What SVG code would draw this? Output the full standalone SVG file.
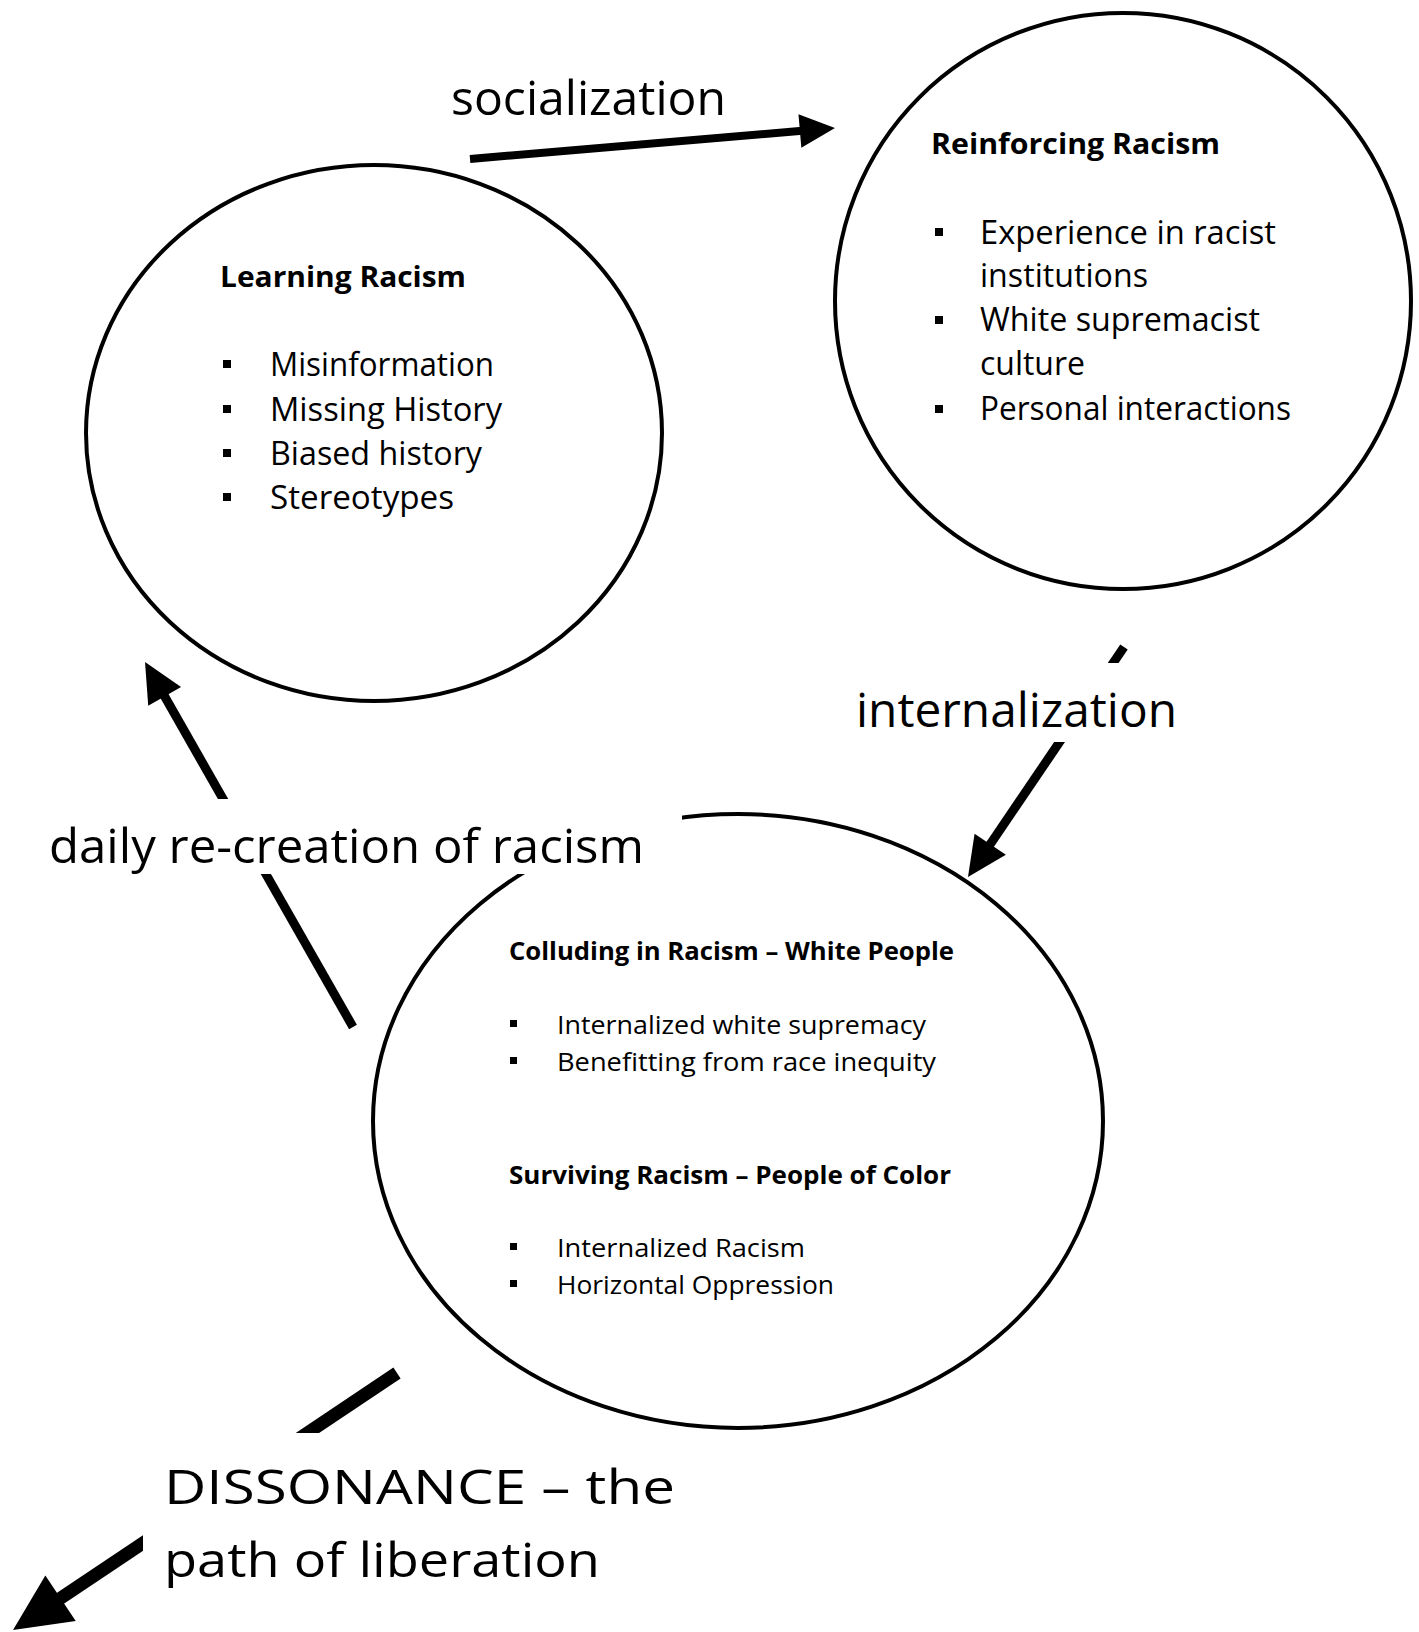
<svg xmlns="http://www.w3.org/2000/svg" width="1419" height="1632" viewBox="0 0 1419 1632">
<style>
  .node { fill: none; stroke: #000; stroke-width: 4; }
  .conn { stroke: #000; fill: none; stroke-linecap: butt; }
  .h { font-family: "Open Sans", "Liberation Sans", sans-serif; font-weight: bold; fill: #000; }
  .b { font-family: "Open Sans", "Liberation Sans", sans-serif; fill: #000; }
  .lbl { font-family: "Open Sans", "Liberation Sans", sans-serif; fill: #000; font-size: 48px; }
  .mask { fill: #fff; stroke: none; }
  .bul { fill: #000; }
</style>
<defs>
  <marker id="ah" markerUnits="strokeWidth" markerWidth="4.4" markerHeight="4.2" refX="0.3" refY="2.1" orient="auto" overflow="visible">
    <path d="M0,0 L4.4,2.1 L0,4.2 z" fill="#000"/>
  </marker>
</defs>
<rect x="0" y="0" width="1419" height="1632" fill="#fff"/>

<g id="connectors">
  <line class="conn" x1="470" y1="159" x2="802.3" y2="130.8" stroke-width="8" marker-end="url(#ah)"/>
  <line class="conn" x1="1124" y1="647" x2="988.7" y2="846.5" stroke-width="9" marker-end="url(#ah)"/>
  <line class="conn" x1="353" y1="1027" x2="163.3" y2="694.1" stroke-width="9" marker-end="url(#ah)"/>
  <line class="conn" x1="397" y1="1373" x2="57.3" y2="1600.4" stroke-width="13" marker-end="url(#ah)"/>
</g>

<g id="learning-racism">
  <ellipse class="node" cx="374" cy="433" rx="288" ry="268"/>
  <text class="h" x="220" y="287" font-size="29" textLength="246" lengthAdjust="spacingAndGlyphs">Learning Racism</text>
  <rect class="bul" x="223" y="360" width="8" height="8"/>
  <rect class="bul" x="223" y="405" width="8" height="8"/>
  <rect class="bul" x="223" y="449" width="8" height="8"/>
  <rect class="bul" x="223" y="493" width="8" height="8"/>
  <text class="b" x="270" y="376" font-size="33" textLength="224" lengthAdjust="spacingAndGlyphs">Misinformation</text>
  <text class="b" x="270" y="421" font-size="33" textLength="232" lengthAdjust="spacingAndGlyphs">Missing History</text>
  <text class="b" x="270" y="465" font-size="33" textLength="212" lengthAdjust="spacingAndGlyphs">Biased history</text>
  <text class="b" x="270" y="509" font-size="33" textLength="184" lengthAdjust="spacingAndGlyphs">Stereotypes</text>
</g>

<g id="reinforcing-racism">
  <ellipse class="node" cx="1123" cy="301" rx="288" ry="288"/>
  <text class="h" x="931" y="154" font-size="29" textLength="289" lengthAdjust="spacingAndGlyphs">Reinforcing Racism</text>
  <rect class="bul" x="935" y="228" width="8" height="8"/>
  <rect class="bul" x="935" y="316" width="8" height="8"/>
  <rect class="bul" x="935" y="405" width="8" height="8"/>
  <text class="b" x="980" y="244" font-size="33" textLength="296" lengthAdjust="spacingAndGlyphs">Experience in racist</text>
  <text class="b" x="980" y="287" font-size="33" textLength="168" lengthAdjust="spacingAndGlyphs">institutions</text>
  <text class="b" x="980" y="331" font-size="33" textLength="280" lengthAdjust="spacingAndGlyphs">White supremacist</text>
  <text class="b" x="980" y="375" font-size="33" textLength="105" lengthAdjust="spacingAndGlyphs">culture</text>
  <text class="b" x="980" y="420" font-size="33" textLength="311" lengthAdjust="spacingAndGlyphs">Personal interactions</text>
</g>

<g id="colluding-surviving">
  <ellipse class="node" cx="738" cy="1121" rx="365" ry="307"/>
  <text class="h" x="509" y="960" font-size="25" textLength="445" lengthAdjust="spacingAndGlyphs">Colluding in Racism – White People</text>
  <rect class="bul" x="510" y="1020" width="7" height="7"/>
  <rect class="bul" x="510" y="1057" width="7" height="7"/>
  <text class="b" x="557" y="1034" font-size="26" textLength="369" lengthAdjust="spacingAndGlyphs">Internalized white supremacy</text>
  <text class="b" x="557" y="1071" font-size="26" textLength="379" lengthAdjust="spacingAndGlyphs">Benefitting from race inequity</text>
  <text class="h" x="509" y="1184" font-size="25" textLength="442" lengthAdjust="spacingAndGlyphs">Surviving Racism – People of Color</text>
  <rect class="bul" x="510" y="1243" width="7" height="7"/>
  <rect class="bul" x="510" y="1280" width="7" height="7"/>
  <text class="b" x="557" y="1257" font-size="26" textLength="248" lengthAdjust="spacingAndGlyphs">Internalized Racism</text>
  <text class="b" x="557" y="1294" font-size="26" textLength="277" lengthAdjust="spacingAndGlyphs">Horizontal Oppression</text>
</g>

<g id="label-socialization">
  <text class="lbl" x="451" y="115" textLength="275" lengthAdjust="spacingAndGlyphs">socialization</text>
</g>
<g id="label-internalization">
  <rect class="mask" x="848" y="663" width="340" height="79"/>
  <text class="lbl" x="856" y="727" textLength="321" lengthAdjust="spacingAndGlyphs">internalization</text>
</g>
<g id="label-daily">
  <rect class="mask" x="40" y="799" width="642" height="75"/>
  <text class="lbl" x="49" y="863" textLength="595" lengthAdjust="spacingAndGlyphs">daily re-creation of racism</text>
</g>
<g id="label-dissonance">
  <rect class="mask" x="143" y="1433" width="560" height="167"/>
  <text class="lbl" x="164" y="1504" font-size="56" textLength="511" lengthAdjust="spacingAndGlyphs">DISSONANCE – the</text>
  <text class="lbl" x="164" y="1577" font-size="56" textLength="436" lengthAdjust="spacingAndGlyphs">path of liberation</text>
</g>
</svg>
